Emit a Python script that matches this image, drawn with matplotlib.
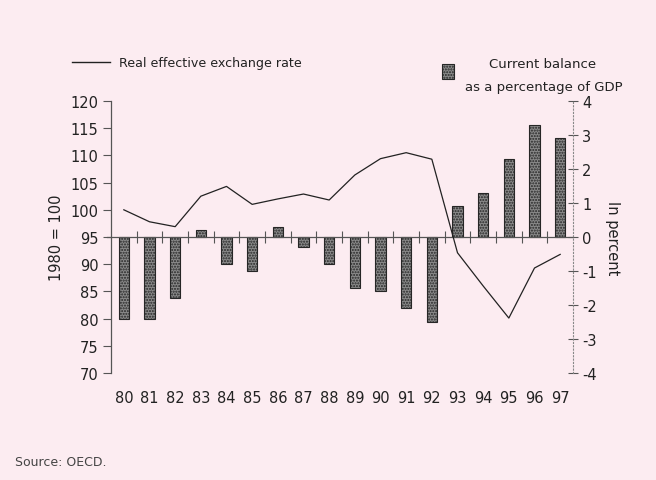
import numpy as np
import matplotlib
matplotlib.use("Agg")
import matplotlib.pyplot as plt
from matplotlib.lines import Line2D
from matplotlib.patches import Rectangle

years = ["80", "81", "82", "83", "84", "85", "86", "87", "88",
         "89", "90", "91", "92", "93", "94", "95", "96", "97"]
# current balance, % of GDP (right axis)
balance = [-2.4, -2.4, -1.8, 0.2, -0.8, -1.0, 0.3, -0.3, -0.8,
           -1.5, -1.6, -2.1, -2.5, 0.9, 1.3, 2.3, 3.3, 2.9]
# real effective exchange rate, 1980 = 100 (left axis)
reer = [100.0, 97.8, 96.9, 102.5, 104.3, 101.0, 102.0, 102.9, 101.8,
        106.4, 109.4, 110.5, 109.3, 92.1, 86.0, 80.1, 89.3, 91.8]

bg = "#fcecf1"
ink = "#222222"
axc = "#555555"
W, H = 656, 481

plt.rcParams['font.family'] = ['DejaVu Sans']
plt.rcParams['axes.unicode_minus'] = False
fig = plt.figure(figsize=(6.56, 4.81), dpi=100, facecolor=bg)

def fx(px):
    return px / W

def fy(py):
    return 1 - py / H

ax = fig.add_axes([fx(111), fy(374), fx(573) - fx(111), fy(102) - fy(374)])
ax.set_facecolor(bg)
ax2 = ax.twinx()
x = np.arange(len(years))

bar_style = dict(facecolor="#8a8a8a", edgecolor="#262626", hatch="......", linewidth=0.8)
ax.bar(x, balance, width=0.4, **bar_style)
ax.set_xlim(-0.5, len(years) - 0.5)
ax.set_ylim(-4, 4)

# zero line with small crossing ticks between the years
ax.axhline(0, color=axc, lw=0.9, xmin=-0.008, clip_on=False)
ax.plot(x[:-1] + 0.5, np.zeros(len(x) - 1), ls="", marker="|", ms=8,
        mew=0.8, color=axc)

for s in ["top", "bottom", "left"]:
    ax.spines[s].set_visible(False)
ax.spines["right"].set_color("#888888")
ax.spines["right"].set_linestyle((0, (1, 2)))
ax.spines["right"].set_linewidth(0.8)
ax.yaxis.tick_right()
ax.yaxis.set_label_position("right")
ax.set_yticks(range(-4, 5))
ax.tick_params(axis="y", direction="inout", length=7, width=0.8, color=axc,
               labelsize=10.5, labelcolor=ink, pad=3)
ax.set_ylabel("In percent", rotation=-90, fontsize=10.5, color=ink, labelpad=17)

ax.set_xticks(x)
ax.set_xticklabels(years)
ax.tick_params(axis="x", length=0, labelsize=10.5, labelcolor=ink, pad=12)

ax2.plot(x, reer, color=ink, lw=0.9)
ax2.set_ylim(70, 120)
ax2.yaxis.tick_left()
ax2.yaxis.set_label_position("left")
ax2.set_yticks(range(70, 121, 5))
for s in ["top", "bottom", "right"]:
    ax2.spines[s].set_visible(False)
ax2.spines["left"].set_color(axc)
ax2.spines["left"].set_linewidth(0.9)
ax2.tick_params(axis="y", direction="out", length=6, width=0.8, color=axc,
                labelsize=10.5, labelcolor=ink, pad=3)
ax2.set_ylabel("1980 = 100", fontsize=10.5, color=ink, labelpad=5)

# legend
fig.add_artist(Line2D([fx(72), fx(110)], [fy(63), fy(63)], color=ink, lw=1.0))
fig.text(fx(119), fy(63), "Real effective exchange rate", fontsize=9.1,
         color=ink, va="center", ha="left")
fig.add_artist(Rectangle((fx(442), fy(80)), fx(12), fy(65) - fy(80), **bar_style))
fig.text(fx(543), fy(65), "Current balance", fontsize=9.5, color=ink,
         va="center", ha="center")
fig.text(fx(544), fy(87), "as a percentage of GDP", fontsize=9.5, color=ink,
         va="center", ha="center")

fig.text(fx(15), fy(462), "Source: OECD.", fontsize=9, color="#444444",
         va="center", ha="left")

fig.savefig("out.png", dpi=100, facecolor=bg)
